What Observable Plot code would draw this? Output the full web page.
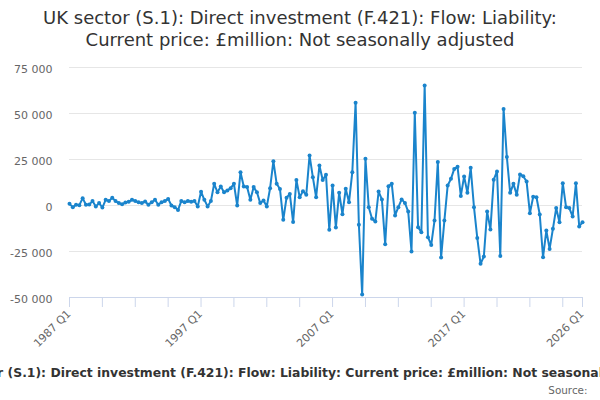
<!DOCTYPE html>
<html>
<head>
<meta charset="utf-8">
<script src="https://cdn.jsdelivr.net/npm/d3@7"></script>
<script src="https://cdn.jsdelivr.net/npm/@observablehq/plot@0.6"></script>
<style>
  html, body { margin: 0; padding: 0; background: #fff; }
  body { width: 600px; height: 400px; position: relative; overflow: hidden; font-family: "DejaVu Sans", sans-serif; }
  #title { height: 52px; box-sizing: border-box; padding-top: 7px; text-align: center; font-size: 18px; line-height: 22px; color: #333333; white-space: nowrap; }
  #chart svg { display: block; }
  #caption { position: absolute; top: 366px; left: 50%; transform: translateX(calc(-50% + 8px)); white-space: nowrap; font-size: 12.4px; line-height: 14px; font-weight: bold; color: #333333; }
  #source { position: absolute; top: 384px; right: 12.5px; font-size: 10.4px; line-height: 12px; color: #666666; }
</style>
</head>
<body>
<div id="title">UK sector (S.1): Direct investment (F.421): Flow: Liability:<br>Current price: £million: Not seasonally adjusted</div>
<div id="chart"></div>
<div id="caption">UK sector (S.1): Direct investment (F.421): Flow: Liability: Current price: £million: Not seasonally adjusted</div>
<div id="source">Source:</div>
<script>
const startYear = 1987;
const values = [
  900, -900, 400, 200, 4000, 400, 500, 2400, -500, 1300,
  -1100, 3100, 2400, 4200, 2400, 1300, 700, 1600, 2000, 3100,
  2400, 1800, 1300, 2200, 400, 1800, 3100, 400, 1800, 2400,
  3600, 0, -900, -2400, 2400, 1800, 2400, 2000, 2400, -500,
  7500, 3100, -500, 2400, 11800, 7200, 10300, 7200, 8100, 9400,
  11800, 0, 18100, 10300, 10000, 3100, 10000, 7200, 1300, 2700,
  -500, 9400, 24100, 11800, 9000, -7800, 4200, 6300, -9000, 13900,
  4500, 7800, 5800, 27200, 15400, 4500, 21700, 13900, 16700, -13200,
  10900, -12000, 6900, -4700, 9100, 1800, 18100, 55800, -10500, -48400,
  25400, -900, -7200, -8700, 7600, 3300, -21000, 10500, 11800, -5400,
  -900, 3300, 1400, -3300, -25000, 50400, -11800, -14500, 65200, -17200,
  -21400, -8200, 23600, -28300, -8200, 10900, 14500, 19900, 21000, 5200,
  15800, 6900, 20500, -900, -17600, -31700, -27700, -3300, -13000, 14000,
  18500, -27500, 52500, 26300, 6900, 11800, 5800, 16900, 15900, 13000,
  -4200, 4700, 4500, -4900, -28100, -13600, -23600, -12700, -1400, -9100,
  12100, -900, -1400, -6000, 12100, -11400, -9100
];
const quarters = values.map((_, i) => `${startYear + Math.floor(i / 4)} Q${(i % 4) + 1}`);
const tickQuarters = ["1987 Q1","1989 Q3","1992 Q1","1994 Q3","1997 Q1","1999 Q3","2002 Q1","2004 Q3",
  "2007 Q1","2009 Q3","2012 Q1","2014 Q3","2017 Q1","2019 Q3","2022 Q1","2024 Q3","2026 Q1"];
const labelQuarters = ["1987 Q1","1997 Q1","2007 Q1","2017 Q1","2026 Q1"];
const yTicks = [-50000, -25000, 0, 25000, 50000, 75000];
const yGrid = [-25000, 0, 25000, 50000, 75000];

const data = values.map((v, i) => ({q: quarters[i], v}));
const lineColor = "#1a84cc";
const fmt = d3.formatLocale({decimal: ".", thousands: " ", grouping: [3], currency: ["", ""], minus: "-"}).format(",");

const chart = Plot.plot({
  width: 600,
  height: 300,
  marginTop: 15,
  marginBottom: 55,
  marginLeft: 69,
  marginRight: 18,
  style: {fontFamily: "DejaVu Sans", background: "#fff"},
  x: {type: "point", domain: quarters, padding: 0, axis: null, label: null},
  y: {domain: [-50000, 75000], axis: null, label: null},
  marks: [
    Plot.ruleY(yGrid, {stroke: "#e6e6e6", strokeWidth: 1}),
    Plot.ruleY([-50000], {stroke: "#ccd6eb", strokeWidth: 1}),
    Plot.axisX({ticks: tickQuarters, tickSize: 10, tickFormat: () => "", stroke: "#ccd6eb", strokeOpacity: 1, label: null}),
    Plot.text(labelQuarters, {x: d => d, frameAnchor: "bottom", rotate: -45, textAnchor: "end", dx: 2, dy: 17, fontSize: 11, fill: "#666666"}),
    Plot.axisY({ticks: yTicks, tickSize: 0, tickPadding: 17, tickFormat: fmt, fontSize: 11, fill: "#666666", dy: 2, label: null}),
    Plot.line(data, {x: "q", y: "v", stroke: lineColor, strokeWidth: 2}),
    Plot.dot(data, {x: "q", y: "v", r: 2, fill: lineColor, stroke: null})
  ]
});
document.getElementById("chart").appendChild(chart);
</script>
</body>
</html>
